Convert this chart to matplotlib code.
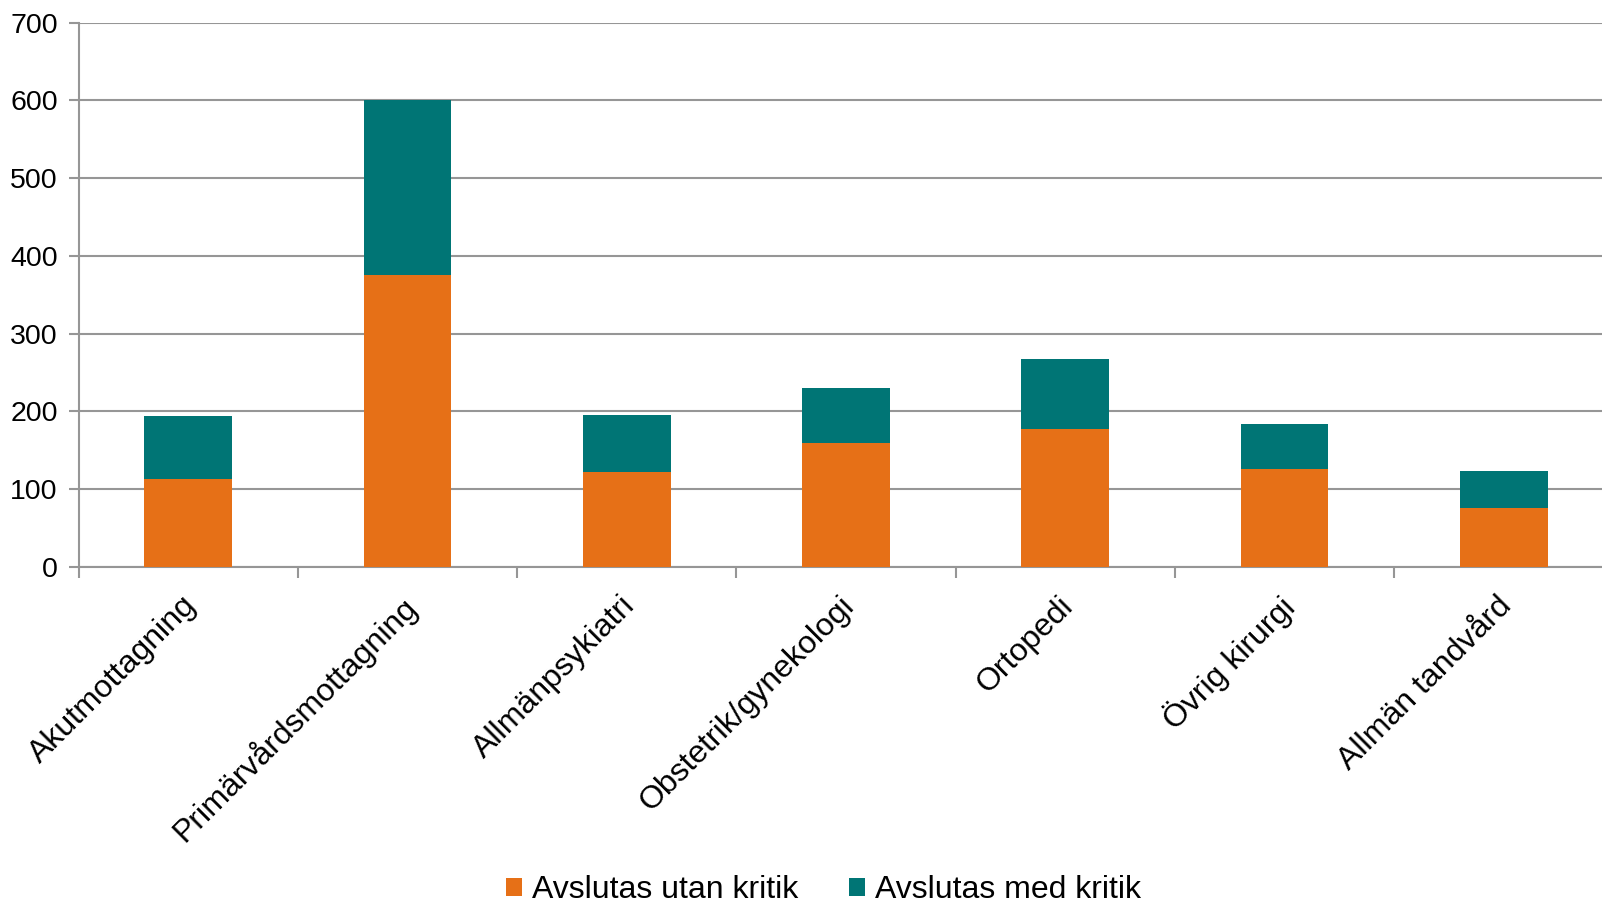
import matplotlib
matplotlib.use("Agg")
import matplotlib.pyplot as plt
import matplotlib.transforms as mtransforms
import numpy as np

plt.rcParams['font.family'] = ['Liberation Sans', 'DejaVu Sans']

categories = ["Akutmottagning", "Primärvårdsmottagning", "Allmänpsykiatri",
              "Obstetrik/gynekologi", "Ortopedi", "Övrig kirurgi", "Allmän tandvård"]
utan_kritik = [113, 375, 122, 160, 177, 126, 76]
med_kritik = [81, 225, 74, 70, 90, 58, 48]
series_names = ["Avslutas utan kritik", "Avslutas med kritik"]
yticks = [0, 100, 200, 300, 400, 500, 600, 700]

orange = "#E67017"
teal = "#007575"
grid_col = "#969696"

fig = plt.figure(figsize=(16.02, 9.01), dpi=100)
ax = fig.add_axes([0.0491, 0.3707, 0.958, 0.6043])

x = np.arange(len(categories))
ax.bar(x, utan_kritik, width=0.4, color=orange, label=series_names[0], zorder=3)
ax.bar(x, med_kritik, width=0.4, bottom=utan_kritik, color=teal,
       label=series_names[1], zorder=3)

ax.set_ylim(0, 700)
ax.set_xlim(-0.5, len(categories) - 0.5)
ax.set_yticks(yticks)
ax.yaxis.grid(True, color=grid_col, linewidth=1.5, zorder=0)

# category ticks sit between bars, labels centred under bars
ax.set_xticks(np.arange(len(categories) + 1) - 0.5)
ax.set_xticklabels([])
ax.set_xticks(x, minor=True)
ax.set_xticklabels(categories, minor=True, rotation=45, ha='right',
                   rotation_mode='anchor', fontsize=23)
ax.tick_params(axis='x', which='minor', length=0, pad=17)
ax.tick_params(axis='x', which='major', length=8, width=1.5, color=grid_col)
ax.tick_params(axis='y', length=7, width=1.5, color=grid_col, labelsize=20.5, pad=8)

shift = mtransforms.ScaledTranslation(-7 / 100, 0, fig.dpi_scale_trans)
for lbl in ax.get_xticklabels(minor=True):
    lbl.set_transform(lbl.get_transform() + shift)

for side in ['top', 'right']:
    ax.spines[side].set_visible(False)
for side in ['left', 'bottom']:
    ax.spines[side].set_color(grid_col)
    ax.spines[side].set_linewidth(1.5)

fig.legend(loc='center', bbox_to_anchor=(0.514, 0.012), ncol=2, frameon=False,
           fontsize=23, handlelength=0.5, handleheight=0.5, handletextpad=0.3,
           columnspacing=1.6)

fig.savefig("out.png", dpi=100)
